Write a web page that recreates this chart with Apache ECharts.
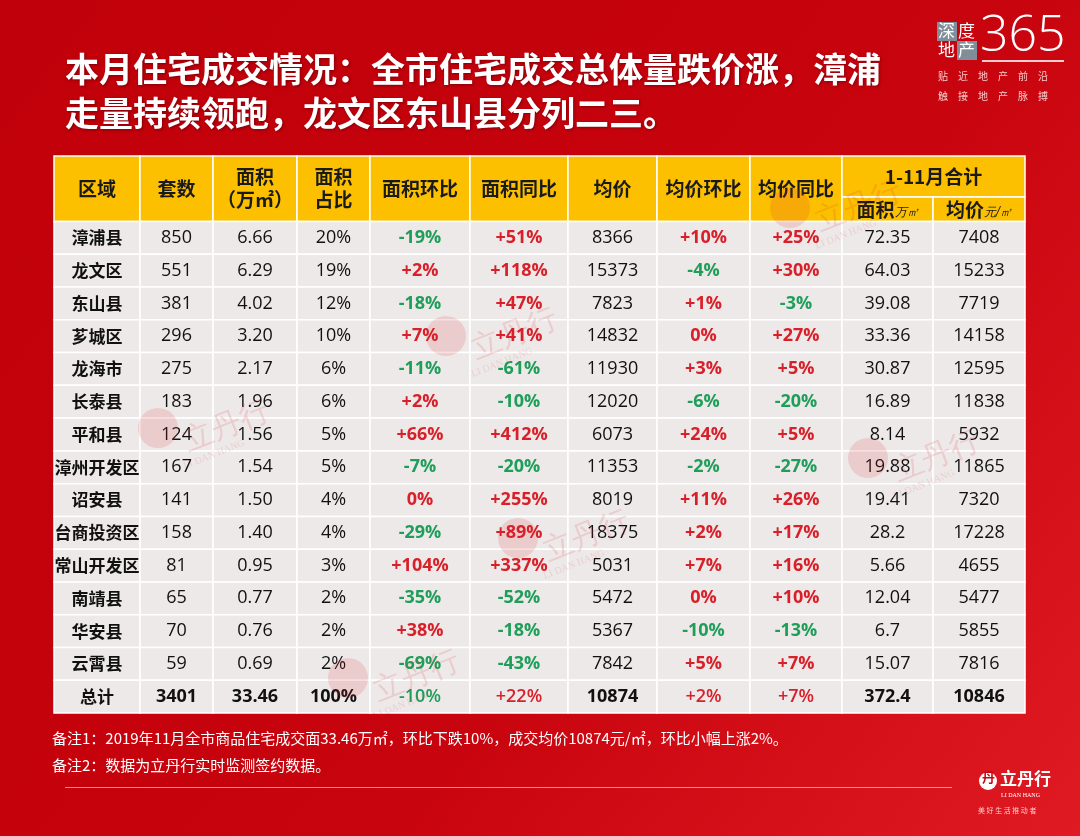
<!DOCTYPE html>
<html><head><meta charset="utf-8">
<script src="https://cdn.jsdelivr.net/npm/echarts@6/dist/echarts.min.js"></script>
<style>html,body{margin:0;padding:0;}#c{width:1080px;height:836px;}</style>
</head><body><div id="c"></div>
<script>
// ---------- data ----------
const regions   = ['漳浦县','龙文区','东山县','芗城区','龙海市','长泰县','平和县','漳州开发区','诏安县','台商投资区','常山开发区','南靖县','华安县','云霄县','总计'];
const units     = ['850','551','381','296','275','183','124','167','141','158','81','65','70','59','3401'];
const area      = ['6.66','6.29','4.02','3.20','2.17','1.96','1.56','1.54','1.50','1.40','0.95','0.77','0.76','0.69','33.46'];
const share     = ['20%','19%','12%','10%','6%','6%','5%','5%','4%','4%','3%','2%','2%','2%','100%'];
const areaMoM   = ['-19%','+2%','-18%','+7%','-11%','+2%','+66%','-7%','0%','-29%','+104%','-35%','+38%','-69%','-10%'];
const areaYoY   = ['+51%','+118%','+47%','+41%','-61%','-10%','+412%','-20%','+255%','+89%','+337%','-52%','-18%','-43%','+22%'];
const price     = ['8366','15373','7823','14832','11930','12020','6073','11353','8019','18375','5031','5472','5367','7842','10874'];
const priceMoM  = ['+10%','-4%','+1%','0%','+3%','-6%','+24%','-2%','+11%','+2%','+7%','0%','-10%','+5%','+2%'];
const priceYoY  = ['+25%','+30%','-3%','+27%','+5%','-20%','+5%','-27%','+26%','+17%','+16%','+10%','-13%','+7%','+7%'];
const ytdArea   = ['72.35','64.03','39.08','33.36','30.87','16.89','8.14','19.88','19.41','28.2','5.66','12.04','6.7','15.07','372.4'];
const ytdPrice  = ['7408','15233','7719','14158','12595','11838','5932','11865','7320','17228','4655','5477','5855','7816','10846'];
const headers   = ['区域','套数','面积\n（万㎡）','面积\n占比','面积环比','面积同比','均价','均价环比','均价同比'];
const groupHeader = '1-11月合计';
const subHeaders  = [['面积','万㎡'],['均价','元/㎡']];
const title = '本月住宅成交情况：全市住宅成交总体量跌价涨，漳浦\n走量持续领跑，龙文区东山县分列二三。';
const note1 = '备注1：2019年11月全市商品住宅成交面33.46万㎡，环比下跌10%，成交均价10874元/㎡，环比小幅上涨2%。';
const note2 = '备注2：数据为立丹行实时监测签约数据。';

// ---------- layout / style ----------
const colEdges = [0,86,159,243,316,416,514,603,696,788,879,971];
const columns = [regions,units,area,share,areaMoM,areaYoY,price,priceMoM,priceYoY,ytdArea,ytdPrice];
const pctCols = [4,5,7,8];
const CJK = '"Noto Sans CJK SC","Noto Sans",sans-serif';
const NUM = '"Open Sans","Noto Sans CJK SC",sans-serif';
const GREEN = '#1f9e5a', RED = '#d8202a';

const bodyData = [];
columns.forEach((col, c) => col.forEach((v, r) => bodyData.push([c, r, v])));
const headData = [];
headers.forEach((h, c) => headData.push([c, 0, h, '']));
headData.push([9, 1, groupHeader, '']);
subHeaders.forEach((s, i) => headData.push([9 + i, 2, s[0], s[1]]));

// faint watermark positions (decoration)
const marks = [[428,318],[140,410],[850,440],[500,520],[330,660],[772,190]];
const wmGraphics = [];
marks.forEach(m => {
  wmGraphics.push({type: 'circle', z: 100, shape: {cx: m[0] + 18, cy: m[1] + 18, r: 20}, style: {fill: 'rgba(215,40,50,0.15)'}});
  wmGraphics.push({type: 'text', z: 100, x: m[0] + 40, y: m[1] + 20, rotation: 0.38, style: {text: '立丹行', fill: 'rgba(215,40,50,0.15)', font: '30px serif'}});
  wmGraphics.push({type: 'text', z: 100, x: m[0] + 42, y: m[1] + 52, rotation: 0.38, style: {text: 'LI DAN HANG', fill: 'rgba(215,40,50,0.14)', font: '10px serif'}});
});

const chart = echarts.init(document.getElementById('c'));
const option = {
  backgroundColor: new echarts.graphic.LinearGradient(0, 0, 1, 1, [
    {offset: 0, color: '#c0000a'}, {offset: 0.6, color: '#c8040e'}, {offset: 1, color: '#e01a22'}]),
  animation: false,
  title: {
    text: title, left: 60, top: 42,
    textStyle: {color: '#fff', fontSize: 34, fontWeight: 'bold', lineHeight: 44, fontFamily: CJK,
      textShadowColor: 'rgba(0,0,0,0.35)', textShadowBlur: 3, textShadowOffsetX: 1, textShadowOffsetY: 1}
  },
  grid: {left: 54, top: 156, width: 971, height: 557},
  xAxis: {type: 'value', min: 0, max: 971, show: false},
  yAxis: {type: 'value', min: 0, max: 17, inverse: true, show: false},
  series: [
    {
      type: 'custom', coordinateSystem: 'cartesian2d', data: headData,
      renderItem: function (params, api) {
        const d = headData[params.dataIndex];
        const c = d[0], kind = d[1];
        let x0 = colEdges[c], x1 = colEdges[c + 1], y0 = 0, y1 = 2;
        if (kind === 1) { x0 = colEdges[9]; x1 = colEdges[11]; y0 = 0; y1 = 1.25; }
        if (kind === 2) { y0 = 1.25; y1 = 2; }
        const p0 = api.coord([x0, y0]), p1 = api.coord([x1, y1]);
        const cx = (p0[0] + p1[0]) / 2, cy = (p0[1] + p1[1]) / 2;
        let textStyle;
        if (kind === 2) {
          textStyle = {text: '{a|' + d[2] + '}{b|' + d[3] + '}', x: cx, y: cy + 1, align: 'center', verticalAlign: 'middle',
            rich: {a: {fontSize: 19, fontWeight: 'bold', fontFamily: CJK, fill: '#1a1a1a'},
                   b: {fontSize: 12, fontFamily: '"DejaVu Serif",serif', fontStyle: 'italic', fill: '#1a1a1a', padding: [6, 0, 0, 0]}}};
        } else {
          textStyle = {text: d[2], x: cx, y: cy, align: 'center', verticalAlign: 'middle',
            font: 'bold 19px ' + CJK, fill: '#1a1a1a', lineHeight: 23};
        }
        return {type: 'group', children: [
          {type: 'rect', shape: {x: p0[0], y: p0[1], width: p1[0] - p0[0], height: p1[1] - p0[1]},
           style: {fill: '#fcc000', stroke: '#ffffff', lineWidth: 1.5}},
          {type: 'text', style: textStyle}
        ]};
      }
    },
    {
      type: 'custom', coordinateSystem: 'cartesian2d', data: bodyData,
      renderItem: function (params, api) {
        const d = bodyData[params.dataIndex];
        const c = d[0], r = d[1], v = d[2];
        const p0 = api.coord([colEdges[c], r + 2]), p1 = api.coord([colEdges[c + 1], r + 3]);
        const cx = (p0[0] + p1[0]) / 2, cy = (p0[1] + p1[1]) / 2;
        const isTotal = r === regions.length - 1;
        let fill = '#111', weight = 'normal', fam = NUM, size = 18;
        if (c === 0) { weight = 'bold'; fam = CJK; size = 17; }
        if (pctCols.indexOf(c) >= 0) { fill = v.charAt(0) === '-' ? GREEN : RED; weight = isTotal ? '600' : 'bold'; }
        else if (isTotal) { weight = 'bold'; }
        return {type: 'group', children: [
          {type: 'rect', shape: {x: p0[0], y: p0[1], width: p1[0] - p0[0], height: p1[1] - p0[1]},
           style: {fill: '#eee9e9', stroke: '#ffffff', lineWidth: 1.5}},
          {type: 'text', style: {text: v, x: cx, y: cy, align: 'center', verticalAlign: 'middle',
            font: weight + ' ' + size + 'px ' + fam, fill: fill}}
        ]};
      }
    }
  ],
  graphic: [
    {type: 'text', left: 52, top: 731, style: {text: note1, fill: '#fff', font: '15px ' + CJK}},
    {type: 'text', left: 52, top: 758, style: {text: note2, fill: '#fff', font: '15px ' + CJK}},
    {type: 'rect', left: 65, top: 787, shape: {width: 887, height: 1}, style: {fill: 'rgba(255,255,255,0.55)'}},
    // top-right brand
    {type: 'rect', left: 937, top: 22, shape: {width: 20, height: 19}, style: {fill: '#7f8e99'}},
    {type: 'rect', left: 957, top: 41, shape: {width: 20, height: 19}, style: {fill: '#7f8e99'}},
    {type: 'text', left: 938, top: 22, style: {text: '深', fill: '#fff', font: '17px ' + CJK}},
    {type: 'text', left: 958, top: 22, style: {text: '度', fill: '#fff', font: '17px ' + CJK}},
    {type: 'text', left: 938, top: 41, style: {text: '地', fill: '#fff', font: '17px ' + CJK}},
    {type: 'text', left: 958, top: 41, style: {text: '产', fill: '#fff', font: '17px ' + CJK}},
    {type: 'text', left: 980, top: 12, style: {text: '365', fill: '#fff', font: '300 50px "Open Sans",sans-serif'}},
    {type: 'rect', left: 982, top: 60, shape: {width: 82, height: 2}, style: {fill: 'rgba(255,255,255,0.8)'}},
    {type: 'text', left: 938, top: 71, style: {text: '贴　近　地　产　前　沿', fill: 'rgba(255,225,225,0.9)', font: '10px ' + CJK}},
    {type: 'text', left: 938, top: 91, style: {text: '触　接　地　产　脉　搏', fill: 'rgba(255,225,225,0.9)', font: '10px ' + CJK}},
    // bottom-right brand
    {type: 'circle', shape: {cx: 988, cy: 781, r: 9}, style: {fill: '#fff'}},
    {type: 'text', left: 982, top: 771, style: {text: '丹', fill: '#c8040e', font: 'bold 13px ' + CJK}},
    {type: 'text', left: 1000, top: 770, style: {text: '立丹行', fill: '#fff', font: 'bold 17px ' + CJK}},
    {type: 'text', left: 1001, top: 792, style: {text: 'LI DAN HANG', fill: '#fff', font: '6px serif'}},
    {type: 'text', left: 978, top: 807, style: {text: '美 好 生 活 推 动 者', fill: 'rgba(255,220,220,0.9)', font: '7px ' + CJK}}
  ].concat(wmGraphics)
};
chart.setOption(option);
</script>
</body></html>
